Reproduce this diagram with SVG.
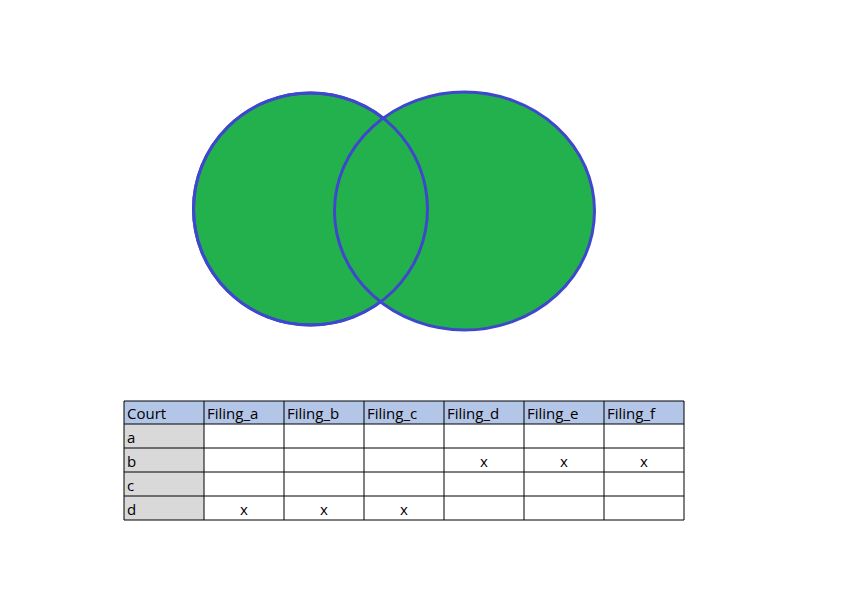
<svg xmlns="http://www.w3.org/2000/svg" width="864" height="600" viewBox="0 0 864 600">
<style>
.c{fill:#23b14d;stroke:#3f48cc;stroke-width:3}
.g{fill:none;stroke:#000;stroke-width:1}
text{font-family:"Open Sans","Liberation Sans",sans-serif;font-size:15px;fill:#000}
.m{text-anchor:middle}
</style>
<rect width="864" height="600" fill="#fff"/>
<g id="venn">
<ellipse id="left" class="c" cx="310.5" cy="209" rx="117" ry="116"/>
<ellipse id="right" class="c" cx="464.5" cy="211" rx="130" ry="119"/>
<ellipse id="left-outline" cx="310.5" cy="209" rx="117" ry="116" fill="none" stroke="#3f48cc" stroke-width="3"/>
</g>
<g id="table">
<rect x="124" y="401" width="560" height="23" fill="#b4c6e7"/>
<rect x="124" y="424" width="80" height="96" fill="#d9d9d9"/>
<g class="g">
<line x1="124" y1="401" x2="684" y2="401"/>
<line x1="124" y1="424" x2="684" y2="424"/>
<line x1="124" y1="448" x2="684" y2="448"/>
<line x1="124" y1="472" x2="684" y2="472"/>
<line x1="124" y1="496" x2="684" y2="496"/>
<line x1="124" y1="520" x2="684" y2="520"/>
<line x1="124" y1="401" x2="124" y2="520"/>
<line x1="204" y1="401" x2="204" y2="520"/>
<line x1="284" y1="401" x2="284" y2="520"/>
<line x1="364" y1="401" x2="364" y2="520"/>
<line x1="444" y1="401" x2="444" y2="520"/>
<line x1="524" y1="401" x2="524" y2="520"/>
<line x1="604" y1="401" x2="604" y2="520"/>
<line x1="684" y1="401" x2="684" y2="520"/>
</g>
<text x="127" y="419">Court</text>
<text x="207" y="419">Filing_a</text>
<text x="287" y="419">Filing_b</text>
<text x="367" y="419">Filing_c</text>
<text x="447" y="419">Filing_d</text>
<text x="527" y="419">Filing_e</text>
<text x="607" y="419">Filing_f</text>
<text x="127" y="443">a</text>
<text x="127" y="467">b</text>
<text x="127" y="491">c</text>
<text x="127" y="515">d</text>
<text class="m" x="484" y="467">x</text>
<text class="m" x="564" y="467">x</text>
<text class="m" x="644" y="467">x</text>
<text class="m" x="244" y="515">x</text>
<text class="m" x="324" y="515">x</text>
<text class="m" x="404" y="515">x</text>
</g>
</svg>
